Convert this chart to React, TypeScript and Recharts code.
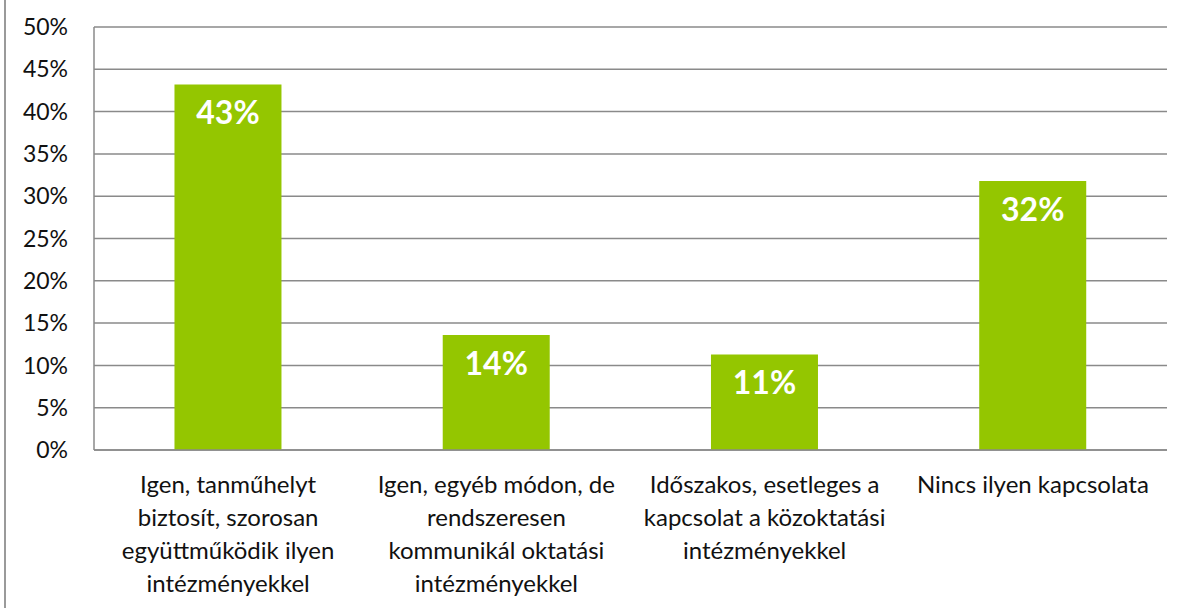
import React from "react";
import { BarChart, Bar, XAxis, YAxis, CartesianGrid, LabelList } from "recharts";

const categories = [
  "Igen, tanműhelyt\nbiztosít, szorosan\negyüttműködik ilyen\nintézményekkel",
  "Igen, egyéb módon, de\nrendszeresen\nkommunikál oktatási\nintézményekkel",
  "Időszakos, esetleges a\nkapcsolat a közoktatási\nintézményekkel",
  "Nincs ilyen kapcsolata",
];
const values = [43.2, 13.6, 11.3, 31.8];
const yTicks = [0, 5, 10, 15, 20, 25, 30, 35, 40, 45, 50];

const data = categories.map((c, i) => ({ name: c, value: values[i] }));

const FONT = "Lato, 'Noto Sans', sans-serif";

const CategoryTick = (props: any) => {
  const { x, y, payload } = props;
  const lines = String(payload.value).split("\n");
  return (
    <text x={x} y={y} textAnchor="middle" fontFamily={FONT} fontSize={24} fill="#111">
      {lines.map((l, i) => (
        <tspan key={i} x={x} dy={i === 0 ? 35 : 33}>
          {l}
        </tspan>
      ))}
    </text>
  );
};

export default function App() {
  return (
    <div style={{ position: "absolute", left: 0, top: 0, width: 1184, height: 608, background: "#fff" }}>
      <div style={{ position: "absolute", left: 4, top: 0, width: 2, height: 608, background: "#9a9a9a" }} />
      <BarChart
        width={1184}
        height={608}
        data={data}
        margin={{ top: 27, right: 17, left: 0, bottom: 0 }}
        barCategoryGap="30%"
      >
        <CartesianGrid vertical={false} stroke="#8a8a8a" strokeWidth={1.5} />
        <XAxis
          dataKey="name"
          height={158}
          axisLine={{ stroke: "#8a8a8a", strokeWidth: 1.5 }}
          tickLine={false}
          tickSize={6}
          tickMargin={2}
          interval={0}
          tick={<CategoryTick />}
        />
        <YAxis
          width={94}
          domain={[0, 50]}
          ticks={yTicks}
          interval={0}
          tickFormatter={(v: number) => `${v}%`}
          axisLine={{ stroke: "#8a8a8a", strokeWidth: 1.5 }}
          tickLine={false}
          tickSize={6}
          tickMargin={20}
          tick={{ fontFamily: FONT, fontSize: 23, fill: "#111" }}
        />
        <Bar dataKey="value" fill="#94c600" isAnimationActive={false}>
          <LabelList
            dataKey="value"
            position="insideTop"
            offset={17}
            formatter={(v: number) => `${Math.round(v)}%`}
            style={{ fontFamily: FONT, fontSize: 32, fontWeight: 700, fill: "#ffffff" }}
          />
        </Bar>
      </BarChart>
    </div>
  );
}
